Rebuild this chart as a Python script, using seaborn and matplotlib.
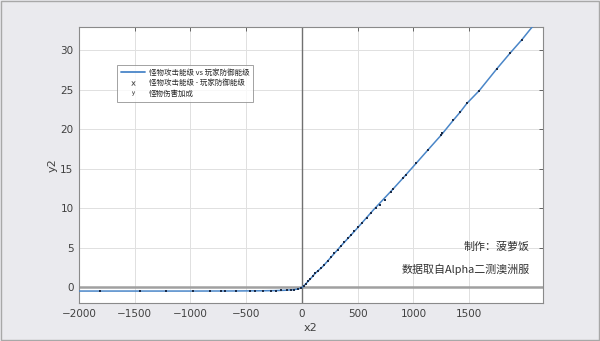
import numpy as np
import pandas as pd
import matplotlib
matplotlib.use("Agg")
import matplotlib.pyplot as plt
from matplotlib.lines import Line2D
import seaborn as sns

# ---- data ----
line_x = [-2000, -1500, -1000, -600, -400, -250, -150, -80, -40, -15, 0,
          30, 70, 120, 190, 340, 490, 640, 700, 820, 910, 1030, 1130, 1250,
          1360, 1420, 1480, 1590, 1750, 1870, 1970, 2050, 2160]
line_y = [-0.45, -0.45, -0.45, -0.44, -0.42, -0.40, -0.35, -0.28, -0.20, -0.10, 0.0,
          0.40, 1.0, 1.8, 2.7, 5.1, 7.4, 9.8, 10.7, 12.5, 13.9, 15.8, 17.4, 19.3,
          21.2, 22.2, 23.3, 24.9, 27.7, 29.7, 31.3, 32.7, 34.5]

pts_x = [-1813, -1454, -1218, -980, -826, -722, -693, -595, -468, -422, -345,
         -276, -235, -190, -133, -100, -67, -35, -8,
         15, 35, 55, 75, 95, 120, 145, 170, 200, 230, 260, 290, 320, 350, 380,
         410, 440, 470, 500, 540, 580, 620, 660, 697, 742, 800, 816, 906, 930,
         1026, 1131, 1245, 1260, 1356, 1416, 1482, 1589, 1751, 1865, 1970]
pts_y = [-0.45, -0.45, -0.45, -0.45, -0.44, -0.44, -0.44, -0.43, -0.42, -0.42, -0.41,
         -0.40, -0.39, -0.37, -0.34, -0.31, -0.26, -0.19, -0.05,
         0.20, 0.50, 0.80, 1.1, 1.4, 1.8, 2.1, 2.5, 2.9, 3.4, 3.9, 4.4, 4.8, 5.3, 5.7,
         6.2, 6.7, 7.1, 7.6, 8.2, 8.8, 9.4, 10.0, 10.5, 11.1, 12.1, 12.4, 13.8, 14.2,
         15.8, 17.4, 19.3, 19.5, 21.2, 22.2, 23.3, 24.9, 27.7, 29.7, 31.3]

xticks = [-2000, -1500, -1000, -500, 0, 500, 1000, 1500]
yticks = [0, 5, 10, 15, 20, 25, 30]

legend_labels = ["怪物攻击能级 vs 玩家防御能级", "怪物攻击能级 - 玩家防御能级", "怪物伤害加成"]
credit1 = "制作：菠萝饭"
credit2 = "数据取自Alpha二测澳洲服"

# ---- style ----
sns.set_style("white")
plt.rcParams['font.family'] = ['DejaVu Sans', 'Noto Sans CJK SC']

bg = "#eaeaee"
fig = plt.figure(figsize=(6.0, 3.41), dpi=100, facecolor=bg)
ax = fig.add_axes([79/600, 1-303.3/341, (542.7-79)/600, (303.3-26.7)/341])
ax.set_facecolor("white")

line_df = pd.DataFrame({"x": line_x, "y": line_y})
pts_df = pd.DataFrame({"x": pts_x, "y": pts_y})

ax.axhline(0, color="#a0a0a0", lw=1.8, zorder=1)
ax.axvline(0, color="#707070", lw=1.0, zorder=1)

sns.lineplot(data=line_df, x="x", y="y", ax=ax, color="#4a86c8", lw=1.1,
             sort=False, zorder=3, legend=False)
sns.scatterplot(data=pts_df, x="x", y="y", ax=ax, color="#1c2c48", s=3,
                marker="s", linewidth=0, zorder=4, legend=False)

ax.set_xlim(-2000, 2160)
ax.set_ylim(-2, 33)
ax.set_xticks(xticks)
ax.set_yticks(yticks)
ax.grid(True, color="#e0e0e0", lw=0.7, zorder=0)
ax.set_axisbelow(True)
ax.tick_params(direction="in", length=3, width=0.6, color="#505050",
               labelsize=7.5, labelcolor="#404040", top=True, right=True,
               pad=4)
for s in ax.spines.values():
    s.set_color("#8a8a8a")
    s.set_linewidth(0.8)

ax.set_xlabel("x2", fontsize=8, color="#404040", labelpad=3)
ax.set_ylabel("y2", fontsize=8, color="#404040", labelpad=2)

handles = [Line2D([], [], color="#4a86c8", lw=1.3),
           Line2D([], [], marker=r"$\mathrm{x}$", ls="none", color="#444444",
                  markersize=3.0, markeredgewidth=0.1),
           Line2D([], [], marker=r"$\mathrm{y}$", ls="none", color="#444444",
                  markersize=3.0, markeredgewidth=0.1)]
leg = fig.legend(handles, legend_labels, loc="upper left",
                 bbox_to_anchor=(113/600, 1-61/341),
                 frameon=True, fancybox=False, handlelength=3.2,
                 borderpad=0.5, labelspacing=0.35, handletextpad=0.6,
                 prop={'family': ['Noto Sans CJK SC'], 'size': 5.4})
leg.get_frame().set_edgecolor("#8a8a8a")
leg.get_frame().set_linewidth(0.7)

ax.text(0.972, 0.205, credit1, transform=ax.transAxes, ha="right", va="center",
        fontsize=7.9, color="#303030", family=['Noto Sans CJK SC'])
ax.text(0.972, 0.122, credit2, transform=ax.transAxes, ha="right", va="center",
        fontsize=7.9, color="#303030", family=['Noto Sans CJK SC'])

# figure border
fig.patches.append(plt.Rectangle((0.002, 0.003), 0.996, 0.994, transform=fig.transFigure,
                                 fill=False, edgecolor="#a8a8a8", lw=1.0))

fig.savefig("out.png", dpi=100, facecolor=bg)
